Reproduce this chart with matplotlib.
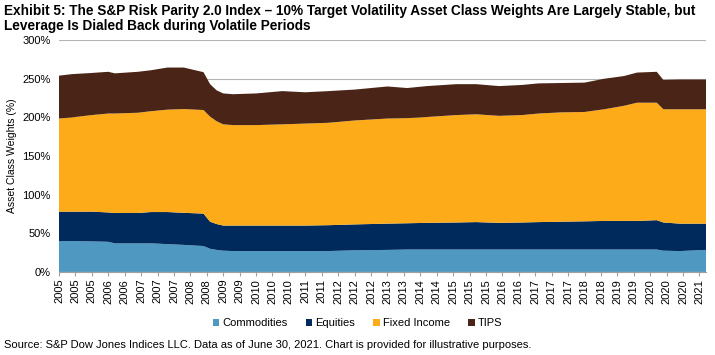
import matplotlib
matplotlib.use("Agg")
import matplotlib.pyplot as plt
from matplotlib.patches import Patch
import numpy as np

# month index from Jan 2005 (0) to Jun 2021 (197)
months = [0, 4, 10, 15, 17, 24, 28, 33, 38, 44, 46, 48, 50, 53, 60, 68, 75, 82,
          90, 100, 106, 112, 121, 127, 134, 141, 146, 153, 160, 166, 172, 176,
          182, 184, 189, 197]

commodities = [40, 40, 39.5, 39, 37, 37, 37, 36, 35, 33.5, 30, 28.5, 27.5, 27,
               27, 27, 27, 27, 28, 28.5, 29, 29, 29, 29, 29, 29, 29, 29, 29, 29,
               29, 29, 29, 27.5, 27, 28.5]
equities = [38, 38, 38.5, 38, 39.3, 39.3, 40.5, 41.5, 41.5, 42, 35, 33.5, 32.5,
            33, 33, 33, 33, 33.5, 33.5, 34, 34, 34.5, 35, 35.5, 34.5, 35, 35.5,
            36, 36.5, 37, 37, 37, 38, 36.5, 35.5, 34]
fixed_income = [120.5, 122, 125, 128, 128.7, 129.7, 130.5, 132.5, 134.3, 134,
                136, 133, 131, 130, 130, 131, 132, 132.5, 134.5, 136, 136, 137,
                139, 139.5, 138.5, 139, 140.5, 141.5, 141.5, 144.5, 149, 153,
                152, 146.5, 148, 148]
tips = [55.5, 56, 54.5, 54, 52, 53, 53, 54.5, 53.7, 49, 42, 40, 40, 40, 41, 43,
        40.5, 41, 40, 41.5, 39, 40, 40, 39, 38.5, 39, 39, 38, 38, 39.5, 38.5,
        39, 40, 38, 38.5, 38.5]

series_names = ["Commodities", "Equities", "Fixed Income", "TIPS"]
colors = ["#4F98C1", "#002A5C", "#FDAB18", "#4A2517"]

# x tick every 5 months, labelled by year
tick_pos = list(range(0, 198, 5))
tick_labels = [str(2005 + p // 12) for p in tick_pos]

plt.rcParams["font.family"] = ["Liberation Sans", "DejaVu Sans"]

fig = plt.figure(figsize=(7.15, 3.55), dpi=100)
ax = fig.add_axes([0.0825, 0.234, 0.905, 0.653])

ax.stackplot(months, commodities, equities, fixed_income, tips,
             colors=colors, linewidth=0, zorder=2)

ax.set_xlim(0, 197)
ax.set_ylim(0, 300)
ax.set_yticks(np.arange(0, 301, 50))
ax.set_yticklabels([f"{v}%" for v in range(0, 301, 50)], fontsize=8)
ax.set_xticks(tick_pos)
ax.set_xticklabels(tick_labels, rotation=90, fontsize=8)
ax.tick_params(axis="y", length=0, pad=6)
ax.tick_params(axis="x", length=3, color="#A0A0A0", pad=2)
ax.grid(axis="y", color="#B4B4B4", linewidth=0.8, zorder=1)
for s in ["top", "right", "left"]:
    ax.spines[s].set_visible(False)
ax.spines["bottom"].set_color("#A0A0A0")
ax.set_ylabel("Asset Class Weights (%)", fontsize=7.5, labelpad=4)

fig.text(0.006, 0.988,
         "Exhibit 5: The S&P Risk Parity 2.0 Index \u2013 10% Target Volatility Asset Class Weights Are Largely Stable, but\n"
         "Leverage Is Dialed Back during Volatile Periods",
         fontsize=9.8, fontweight="bold", va="top", ha="left",
         linespacing=1.1)

handles = [Patch(facecolor=c, edgecolor="none") for c in colors]
fig.legend(handles, series_names, loc="center", bbox_to_anchor=(0.5, 0.09),
           ncol=4, frameon=False, fontsize=8, handlelength=0.6, handleheight=0.6,
           handletextpad=0.3, columnspacing=1.6)

fig.text(0.006, 0.015,
         "Source: S&P Dow Jones Indices LLC. Data as of June 30, 2021. Chart is provided for illustrative purposes.",
         fontsize=8, ha="left", va="bottom")

fig.savefig("out.png", dpi=100)
